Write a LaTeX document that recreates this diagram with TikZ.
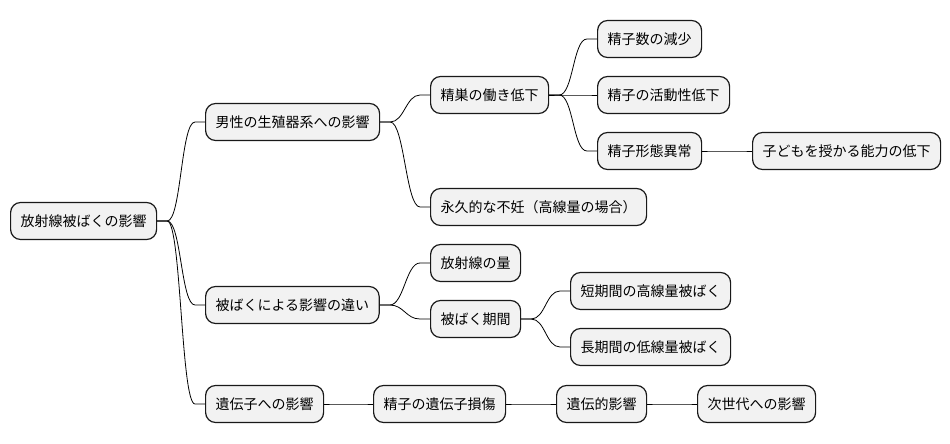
\documentclass[tikz,border=0pt]{standalone}
\usepackage{fontspec}
\newfontfamily\jpfont{Noto Sans CJK JP}
\usetikzlibrary{calc,positioning}

\tikzset{
  topic/.style={draw=black!90, line width=.9pt, fill=gray!10, rounded corners=7.5pt,
    inner xsep=7.5pt, inner ysep=0pt, minimum height=27.75pt, anchor=west},
  link/.style={to path={-- ++(10,0) .. controls +(14,0) and +(-14,0) .. ($(\tikztotarget)+(-10,0)$) -- (\tikztotarget)}}
}

\begin{document}
\begin{tikzpicture}[x=.75pt, y=-.75pt, font=\jpfont\fontsize{10.5}{12}\selectfont, line width=.6pt]
    \useasboundingbox (0,0) rectangle (950,443);
    \node[topic] (root) at (10,221) {放射線被ばくの影響};
    \node[topic] (male) at (205,122) {男性の生殖器系への影響};
    \node[topic] (diff) at (205,305) {被ばくによる影響の違い};
    \node[topic] (gene) at (205,404) {遺伝子への影響};
    \node[topic] (testis) at (430,95) {精巣の働き低下};
    \node[topic] (sterile) at (430,207) {永久的な不妊（高線量の場合）};
    \node[topic] (count) at (597,39) {精子数の減少};
    \node[topic] (motion) at (597,95) {精子の活動性低下};
    \node[topic] (shape) at (597,151) {精子形態異常};
    \node[topic] (fertility) at (752,151) {子どもを授かる能力の低下};
    \node[topic] (dose) at (430,263) {放射線の量};
    \node[topic] (period) at (430,319) {被ばく期間};
    \node[topic] (short) at (570,291) {短期間の高線量被ばく};
    \node[topic] (long) at (570,347) {長期間の低線量被ばく};
    \node[topic] (damage) at (373,404) {精子の遺伝子損傷};
    \node[topic] (hered) at (556,404) {遺伝的影響};
    \node[topic] (nextgen) at (697,404) {次世代への影響};
    \foreach \a/\b in {root/male,root/diff,root/gene,male/testis,male/sterile,
      testis/count,testis/motion,testis/shape,shape/fertility,diff/dose,diff/period,
      period/short,period/long,gene/damage,damage/hered,hered/nextgen}
      \draw (\a.east) to[link] (\b.west);
\end{tikzpicture}
\end{document}
